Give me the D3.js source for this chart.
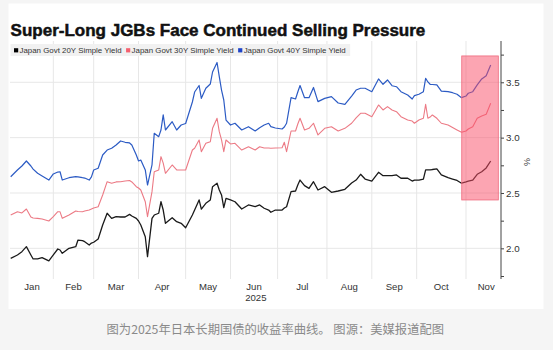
<!DOCTYPE html>
<html>
<head>
<meta charset="utf-8">
<script src="https://cdn.jsdelivr.net/npm/d3@7"></script>
<style>
    html, body { margin: 0; padding: 0; background: #f5f5f5; }
    svg { display: block; }
</style>
</head>
<body>
<div id="jgb-chart-div"></div>
<script>

// Japan market holidays 2025 (no trading), x axis runs on trading days
let holidays = ["01-01", "01-02", "01-03", "01-13", "02-11", "02-24", "03-20", "04-29",
    "05-05", "05-06", "07-21", "08-11", "09-15", "09-23", "10-13", "11-03", "11-24"];

let monthNames = ["Jan", "Feb", "Mar", "Apr", "May", "Jun", "Jul", "Aug", "Sep", "Oct", "Nov"];

let dates = ["01-06", "01-09", "01-14", "01-16", "01-20", "01-21", "01-23", "01-27", "01-30",
    "02-03", "02-05", "02-06", "02-07", "02-13", "02-18", "02-19", "02-21", "02-25", "02-27", "02-28",
    "03-03", "03-05", "03-07", "03-11", "03-13", "03-17", "03-19", "03-24", "03-26", "03-27", "03-31",
    "04-01", "04-02", "04-04", "04-07", "04-09", "04-10", "04-14", "04-15", "04-16", "04-17", "04-22", "04-24", "04-28",
    "05-01", "05-08", "05-09", "05-13", "05-14", "05-16", "05-20", "05-21", "05-23", "05-26", "05-27", "05-28", "05-29",
    "06-02", "06-04", "06-09", "06-12", "06-17", "06-19", "06-23", "06-25", "06-26", "06-30",
    "07-03", "07-04", "07-07", "07-09", "07-11", "07-14", "07-15", "07-17", "07-22", "07-24", "07-28", "07-31",
    "08-05", "08-08", "08-14", "08-19", "08-21", "08-25", "08-27",
    "09-01", "09-04", "09-08", "09-10", "09-12", "09-17", "09-19", "09-25", "09-29", "09-30",
    "10-02", "10-06", "10-07", "10-08", "10-09", "10-10", "10-15", "10-17", "10-22", "10-24", "10-28", "10-30",
    "11-04", "11-05", "11-07", "11-11", "11-13", "11-17", "11-19"];

let yield20 = [1.910, 1.940, 1.970, 2.015, 1.940, 1.904, 1.904, 1.916, 1.886,
    1.940, 1.994, 1.985, 1.955, 2.000, 2.015, 2.075, 2.070, 2.060, 2.030, 2.048,
    2.055, 2.085, 2.211, 2.317, 2.271, 2.286, 2.283, 2.283, 2.307, 2.292, 2.271,
    2.247, 2.211, 2.105, 1.925, 2.271, 2.301, 2.317, 2.421, 2.346, 2.226, 2.277, 2.241, 2.226,
    2.186, 2.301, 2.346, 2.437, 2.355, 2.407, 2.437, 2.557, 2.588, 2.527, 2.482, 2.367, 2.452,
    2.437, 2.421, 2.355, 2.392, 2.376, 2.392, 2.362, 2.346, 2.326, 2.346,
    2.346, 2.364, 2.376, 2.512, 2.518, 2.572, 2.617, 2.566, 2.542, 2.602, 2.527, 2.557,
    2.506, 2.518, 2.533, 2.590, 2.617, 2.669, 2.626,
    2.608, 2.687, 2.656, 2.656, 2.656, 2.663, 2.633, 2.633, 2.608, 2.617,
    2.617, 2.626, 2.708, 2.708, 2.708, 2.712, 2.717, 2.663, 2.638, 2.626, 2.613, 2.588,
    2.600, 2.608, 2.617, 2.669, 2.692, 2.726, 2.789];

let yield30 = [2.301, 2.331, 2.320, 2.355, 2.283, 2.274, 2.271, 2.265, 2.247,
    2.286, 2.331, 2.330, 2.271, 2.301, 2.337, 2.333, 2.331, 2.337, 2.346, 2.355,
    2.364, 2.376, 2.482, 2.602, 2.588, 2.600, 2.602, 2.608, 2.613, 2.600, 2.557,
    2.545, 2.527, 2.421, 2.286, 2.512, 2.692, 2.708, 2.828, 2.770, 2.678, 2.753, 2.708, 2.708,
    2.708, 2.888, 2.904, 2.979, 2.873, 2.949, 2.963, 3.084, 3.175, 3.054, 2.979, 2.873, 2.979,
    2.943, 2.949, 2.888, 2.918, 2.888, 2.918, 2.906, 2.906, 2.904, 2.906,
    2.909, 2.958, 2.873, 3.060, 3.060, 3.123, 3.175, 3.069, 3.084, 3.130, 3.024, 3.084,
    3.099, 3.060, 3.084, 3.130, 3.178, 3.220, 3.220,
    3.189, 3.295, 3.250, 3.280, 3.250, 3.234, 3.189, 3.159, 3.150, 3.130,
    3.159, 3.175, 3.301, 3.175, 3.186, 3.205, 3.175, 3.130, 3.114, 3.091, 3.069, 3.048,
    3.060, 3.078, 3.099, 3.175, 3.196, 3.211, 3.310];

let yield40 = [2.647, 2.708, 2.744, 2.789, 2.744, 2.716, 2.678, 2.654, 2.617,
    2.672, 2.689, 2.692, 2.617, 2.638, 2.647, 2.645, 2.638, 2.635, 2.617, 2.645,
    2.708, 2.723, 2.843, 2.888, 2.904, 2.934, 2.970, 2.958, 2.952, 2.934, 2.843,
    2.789, 2.798, 2.708, 2.572, 2.753, 3.039, 3.009, 3.069, 3.205, 3.069, 3.144, 3.069, 3.114,
    3.128, 3.322, 3.412, 3.471, 3.355, 3.446, 3.485, 3.593, 3.679, 3.551, 3.430, 3.340, 3.159,
    3.114, 3.130, 3.069, 3.099, 3.060, 3.090, 3.114, 3.130, 3.099, 3.087,
    3.078, 3.096, 3.130, 3.361, 3.349, 3.412, 3.471, 3.361, 3.361, 3.453, 3.325, 3.355,
    3.370, 3.313, 3.301, 3.376, 3.430, 3.446, 3.446,
    3.415, 3.530, 3.482, 3.521, 3.469, 3.460, 3.415, 3.385, 3.349, 3.379,
    3.392, 3.415, 3.536, 3.503, 3.482, 3.480, 3.476, 3.421, 3.415, 3.406, 3.392, 3.361,
    3.376, 3.401, 3.415, 3.476, 3.530, 3.560, 3.656];

let seriesNames = ["Japan Govt 20Y Simple Yield", "Japan Govt 30Y Simple Yield", "Japan Govt 40Y Simple Yield"];
let yTicks = [1.75, 2.0, 2.25, 2.5, 2.75, 3.0, 3.25, 3.5, 3.75];
let yLabels = [2.0, 2.5, 3.0, 3.5];

// highlighted window: trading days and yield range
let highlight = {from: 201.1, to: 217.4, low: 2.437, high: 3.738};


class jgbChart {
    constructor() {
        this.parentElement = "jgb-chart-div";
        this.initVis();
    }

    initVis() {
        let vis = this;
        vis.width = 553;
        vis.height = 350;
        vis.plot = {left: 10.7, right: 501, top: 41, bottom: 279};

        // trading day calendar
        let fmt = d3.utcFormat("%m-%d");
        vis.tradingDays = d3.utcDay.range(new Date(Date.UTC(2025, 0, 1)), new Date(Date.UTC(2025, 11, 2)))
            .filter(d => d.getUTCDay() !== 0 && d.getUTCDay() !== 6 && !holidays.includes(fmt(d)));
        vis.dayIndex = {};
        vis.tradingDays.forEach((d, i) => vis.dayIndex[fmt(d)] = i);

        // first trading day of each month (Jan..Dec)
        vis.monthStarts = d3.range(12).map(m =>
            vis.tradingDays.findIndex(d => d.getUTCMonth() === m));

        vis.wrangleData();
    }

    wrangleData() {
        let vis = this;
        let all = [yield20, yield30, yield40];
        vis.series = all.map((vals, k) => ({
            name: seriesNames[k],
            values: dates.map((d, i) => ({day: vis.dayIndex[d], value: vals[i]}))
        }));
        vis.updateVis();
    }

    updateVis() {
        let vis = this;
        vis.svg = d3.select("#" + vis.parentElement)
            .append("svg")
            .attr("width", vis.width)
            .attr("height", vis.height);

        // white card
        vis.svg.append("rect")
            .attr("x", 8.5)
            .attr("y", 3.5)
            .attr("width", 535)
            .attr("height", 305.5)
            .attr("fill", "white");

        vis.x = d3.scaleLinear()
            .domain([0, 218.6])
            .range([vis.plot.left, vis.plot.right]);

        vis.y = d3.scaleLinear()
            .domain([1.723, 3.873])
            .range([vis.plot.bottom, vis.plot.top]);

        // grid
        vis.svg.append("g")
            .selectAll("line")
            .data(yLabels)
            .enter()
            .append("line")
            .attr("x1", 10)
            .attr("x2", vis.plot.right)
            .attr("y1", d => vis.y(d))
            .attr("y2", d => vis.y(d))
            .attr("stroke", "#e7e7e7")
            .attr("stroke-width", 1);

        vis.svg.append("g")
            .selectAll("line")
            .data(vis.monthStarts.slice(1, 11))
            .enter()
            .append("line")
            .attr("x1", d => vis.x(d))
            .attr("x2", d => vis.x(d))
            .attr("y1", vis.plot.top)
            .attr("y2", vis.plot.bottom)
            .attr("stroke", "#e7e7e7")
            .attr("stroke-width", 1);

        // legend box
        let legend = vis.svg.append("g")
            .attr("class", "legend");

        let box = legend.append("rect")
            .attr("x", 10.6)
            .attr("y", 44)
            .attr("height", 12)
            .attr("fill", "#f1f1f1");

        let swatch = ["#000000", "#f4606f", "#1e44c8"];
        let lx = 14;
        seriesNames.forEach((name, i) => {
            legend.append("rect")
                .attr("x", lx)
                .attr("y", 48.2)
                .attr("width", 4.2)
                .attr("height", 4.2)
                .attr("fill", swatch[i]);
            let t = legend.append("text")
                .attr("x", lx + 5.5)
                .attr("y", 53.3)
                .text(name)
                .attr("font-family", "Liberation Sans, Arial, sans-serif")
                .attr("font-size", 7.9)
                .attr("fill", "#333");
            lx += 5.5 + t.node().getComputedTextLength() + 4.5;
        });
        box.attr("width", lx - 10.6);

        // lines
        let lineColors = ["#1a1a1a", "#ec7a85", "#2c5bc4"];
        let lineWidths = [1.3, 1.1, 1.2];
        let line = d3.line()
            .x(d => vis.x(d.day))
            .y(d => vis.y(d.value));

        vis.svg.selectAll(".series")
            .data(vis.series)
            .enter()
            .append("path")
            .attr("class", "series")
            .attr("d", d => line(d.values))
            .attr("fill", "none")
            .attr("stroke", (d, i) => lineColors[i])
            .attr("stroke-width", (d, i) => lineWidths[i])
            .attr("stroke-linejoin", "round");

        // highlight window over the lines
        vis.svg.append("rect")
            .attr("x", vis.x(highlight.from))
            .attr("y", vis.y(highlight.high))
            .attr("width", vis.x(highlight.to) - vis.x(highlight.from))
            .attr("height", vis.y(highlight.low) - vis.y(highlight.high))
            .attr("fill", "#f94b65")
            .attr("fill-opacity", 0.5)
            .attr("stroke", "#ee6a7e")
            .attr("stroke-width", 0.8);

        // right axis
        let yAxis = d3.axisRight(vis.y)
            .tickValues(yTicks)
            .tickSize(3)
            .tickPadding(2)
            .tickFormat(d => yLabels.includes(d) ? d.toFixed(1) : "");

        let ya = vis.svg.append("g")
            .attr("transform", `translate(${vis.plot.right}, 0)`)
            .call(yAxis);
        ya.select(".domain")
            .attr("d", `M0,${vis.plot.top}V${vis.plot.bottom}`)
            .attr("stroke", "#444");
        ya.selectAll(".tick line").attr("stroke", "#444");
        ya.selectAll("text")
            .attr("font-family", "Liberation Sans, Arial, sans-serif")
            .attr("font-size", 9.8)
            .attr("fill", "#333");

        vis.svg.append("text")
            .attr("transform", `translate(524, 162) rotate(90)`)
            .attr("text-anchor", "middle")
            .text("%")
            .attr("font-family", "Liberation Sans, Arial, sans-serif")
            .attr("font-size", 9)
            .attr("fill", "#444");

        // month labels
        vis.svg.append("g")
            .selectAll("text")
            .data(monthNames)
            .enter()
            .append("text")
            .attr("x", (d, i) => vis.x((vis.monthStarts[i] + vis.monthStarts[i + 1]) / 2))
            .attr("y", 290)
            .attr("text-anchor", "middle")
            .text(d => d)
            .attr("font-family", "Liberation Sans, Arial, sans-serif")
            .attr("font-size", 9.6)
            .attr("fill", "#333");

        vis.svg.append("text")
            .attr("x", (vis.plot.left + vis.plot.right) / 2)
            .attr("y", 300.5)
            .attr("text-anchor", "middle")
            .text("2025")
            .attr("font-family", "Liberation Sans, Arial, sans-serif")
            .attr("font-size", 9.6)
            .attr("fill", "#333");

        // title
        vis.svg.append("text")
            .attr("x", 10.6)
            .attr("y", 35.5)
            .text("Super-Long JGBs Face Continued Selling Pressure")
            .attr("font-family", "Liberation Sans, Arial, sans-serif")
            .attr("font-size", 17)
            .attr("font-weight", "bold")
            .attr("fill", "#111")
            .attr("stroke", "#111")
            .attr("stroke-width", 0.5);

        // caption below the card
        vis.svg.append("text")
            .attr("x", 275.3)
            .attr("y", 334)
            .attr("text-anchor", "middle")
            .text("图为2025年日本长期国债的收益率曲线。 图源：美媒报道配图")
            .attr("font-family", "Noto Sans CJK SC, sans-serif")
            .attr("font-size", 12.3)
            .attr("fill", "#8a8a8a");
    }
}

new jgbChart();

</script>
</body>
</html>
